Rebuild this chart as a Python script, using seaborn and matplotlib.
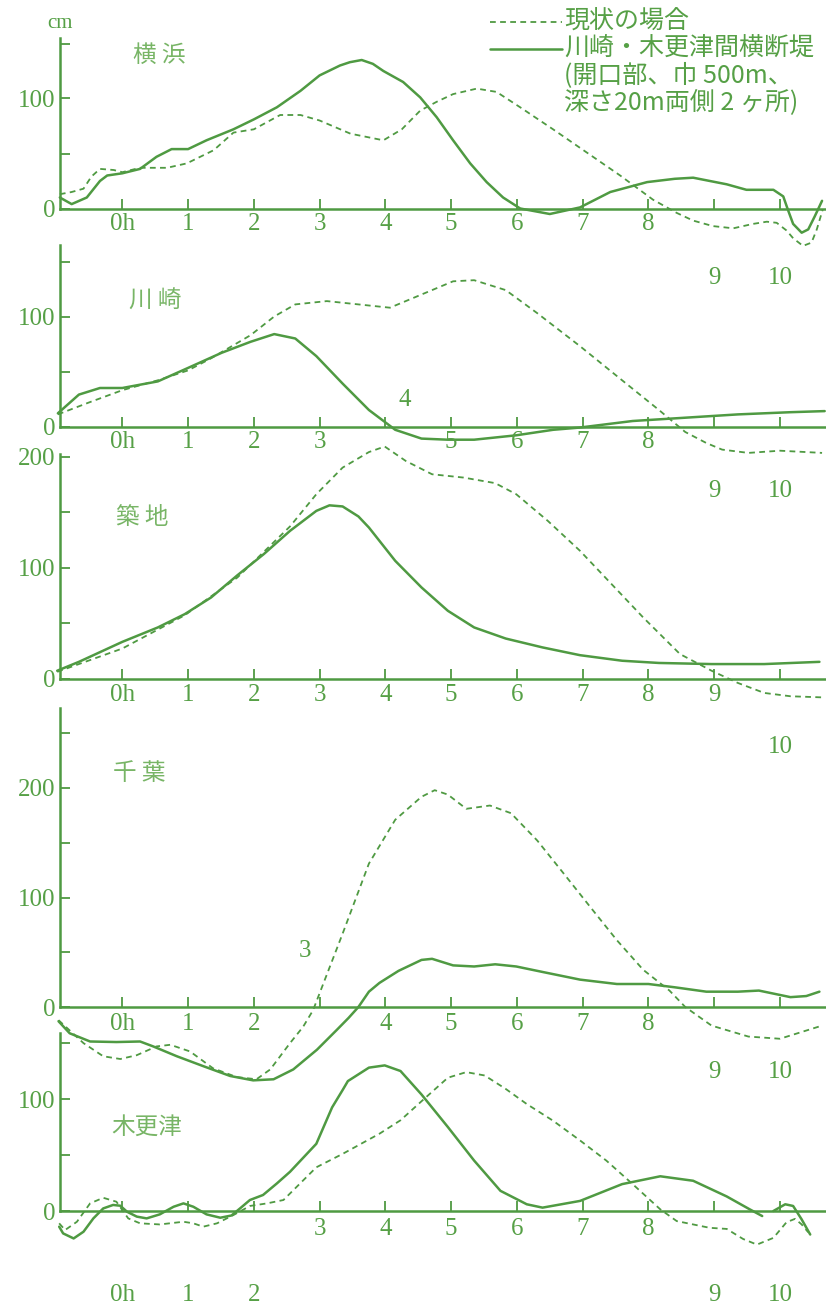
import numpy as np
import pandas as pd
import matplotlib
matplotlib.use("Agg")
import matplotlib.pyplot as plt
import seaborn as sns
from matplotlib.lines import Line2D

# ---------------- data (hours, cm) ----------------
hours = list(range(0, 11))
hour_labels = ["0h"] + [str(i) for i in range(1, 11)]
stations = ["横 浜", "川 崎", "築 地", "千 葉", "木更津"]
legend_now = "現状の場合"
legend_dam = ["川崎・木更津間横断堤", "(開口部、巾 500m、", "深さ20m両側 2 ヶ所)"]

# 横浜
yoko_now_h = [-0.95, -0.77, -0.59, -0.47, -0.34, -0.13, 0.0, 0.27, 0.68, 0.98, 1.39, 1.69, 2.0, 2.4, 2.71, 3.0,
              3.47, 3.97, 4.25, 4.53, 4.78, 5.03, 5.39, 5.69, 6.05, 6.55, 7.06, 7.57, 8.07, 8.43, 8.68, 8.98,
              9.29, 9.59, 9.8, 9.95, 10.1, 10.2, 10.35, 10.48, 10.56, 10.65]
yoko_now_cm = [13, 15, 18, 29, 36, 35, 33, 37, 37, 41, 53, 69, 72, 85, 85, 80,
               68, 62, 72, 89, 97, 104, 109, 106, 92, 72, 51, 30, 8, -4, -11, -16,
               -18, -14, -12, -13, -20, -27, -34, -31, -19, -1]
yoko_dam_h = [-0.95, -0.77, -0.54, -0.34, -0.23, 0.0, 0.27, 0.52, 0.75, 1.0, 1.28, 1.69, 2.0, 2.35, 2.71, 3.0,
              3.31, 3.46, 3.64, 3.81, 3.97, 4.27, 4.53, 4.78, 5.03, 5.29, 5.54, 5.79, 6.05, 6.5, 6.96, 7.42,
              7.98, 8.4, 8.68, 9.19, 9.49, 9.9, 10.05, 10.12, 10.2, 10.33, 10.43, 10.53, 10.64]
yoko_dam_cm = [10, 4, 10, 25, 30, 32, 36, 47, 54, 54, 62, 72, 81, 92, 107, 121,
               130, 133, 135, 131.5, 125, 115, 101, 83, 62, 41, 24, 10, 0, -5, 1, 15,
               24, 27, 28, 22, 17, 17, 11, -1, -14, -22, -19, -7, 7]

# 川崎
kawa_now_h = [-0.98, -0.5, 0.0, 0.54, 1.0, 1.35, 1.95, 2.31, 2.63, 3.11, 3.59, 4.07, 4.55, 5.03, 5.35, 5.83,
              6.31, 6.96, 7.6, 8.16, 8.56, 8.88, 9.12, 9.52, 10.0, 10.64]
kawa_now_cm = [11, 22, 33, 42, 51, 62, 83, 100, 111, 114, 111, 108, 120, 132, 133, 124,
               103, 73, 42, 15, -5, -15, -21, -24, -22, -24]
kawa_dam_h = [-0.98, -0.66, -0.34, 0.0, 0.54, 0.99, 1.51, 1.95, 2.31, 2.63, 2.95, 3.35, 3.75, 4.15, 4.55, 4.95,
              5.35, 5.99, 6.55, 6.95, 7.76, 8.56, 9.36, 10.16, 10.68]
kawa_dam_cm = [12, 29, 35, 35, 41, 53, 67, 77, 84, 80, 64, 39, 15, -3, -11, -12,
               -12, -8, -3, -1, 5, 8, 11, 13, 14]

# 築地
tsuki_now_h = [-0.99, 0.0, 0.95, 1.75, 2.55, 2.95, 3.35, 3.75, 3.99, 4.31, 4.71, 5.19, 5.67, 5.99, 6.47, 6.96,
               7.44, 7.92, 8.48, 8.96, 9.36, 9.76, 10.16, 10.64]
tsuki_now_cm = [6, 27, 57, 91, 137, 166, 190, 204, 209, 196, 184, 181, 176, 166, 142, 115,
                85, 55, 22, 7, -4, -13, -16, -17]
tsuki_dam_h = [-0.99, -0.66, 0.0, 0.54, 0.95, 1.35, 1.75, 2.15, 2.55, 2.95, 3.15, 3.35, 3.59, 3.75, 4.15, 4.55,
               4.95, 5.35, 5.83, 6.39, 6.96, 7.6, 8.16, 8.96, 9.76, 10.6]
tsuki_dam_cm = [7, 15, 33, 46, 58, 73, 93, 112, 133, 151, 156, 155, 146, 136, 106, 82,
                61, 46, 36, 28, 21, 16, 14, 13, 13, 15]

# 千葉
chiba_now_h = [-0.97, -0.59, -0.29, -0.03, 0.22, 0.52, 0.73, 1.03, 1.38, 1.74, 2.04, 2.25, 2.55, 2.75, 2.9, 3.35,
               3.75, 4.15, 4.55, 4.75, 4.95, 5.23, 5.59, 5.91, 6.31, 6.71, 7.12, 7.52, 7.92, 8.32, 8.56, 8.96,
               9.52, 10.0, 10.64]
chiba_now_cm = [-12, -33, -45, -47.5, -44, -36, -34.5, -40.6, -56, -64, -66, -57, -33, -18, -3, 67,
                131, 171, 192, 198, 194, 181, 184, 177, 152, 122, 91, 61, 34, 15, 0, -17,
                -27, -29, -17]
chiba_dam_h = [-0.97, -0.8, -0.49, -0.09, 0.27, 0.47, 0.83, 1.23, 1.64, 1.99, 2.3, 2.6, 2.96, 3.26, 3.44, 3.59,
               3.75, 3.91, 4.2, 4.55, 4.71, 5.03, 5.35, 5.67, 5.99, 6.39, 6.96, 7.52, 8.0, 8.4, 8.88, 9.36,
               9.68, 9.92, 10.16, 10.4, 10.6]
chiba_dam_cm = [-13, -24, -31.5, -32, -31.5, -36, -45, -54, -63, -67, -66, -57, -39, -21, -10, 0,
                14, 22, 33, 43, 44, 38, 37, 39, 37, 32, 25, 21, 21, 18, 14, 14,
                15, 12, 9, 10, 14]

# 木更津
kisa_now_h = [-0.96, -0.87, -0.69, -0.49, -0.29, -0.09, 0.09, 0.27, 0.57, 0.93, 1.08, 1.23, 1.44, 1.69, 1.94, 2.2,
              2.45, 2.95, 3.35, 3.91, 4.23, 4.55, 4.95, 5.23, 5.51, 5.83, 6.15, 6.55, 6.96, 7.36, 7.76, 8.18,
              8.43, 8.93, 9.19, 9.44, 9.65, 9.9, 10.1, 10.23, 10.33, 10.43]
kisa_now_cm = [-11, -17, -9.6, 6.8, 11.8, 8.3, -6.6, -11, -12, -9.6, -11, -14, -11, -3.6, 4.5, 6.8,
               9.8, 39, 51, 69, 81, 98, 119, 124, 121, 109, 95.5, 80.6, 63, 45, 24, 1.5,
               -9, -15, -16, -25, -30, -24, -10, -7, -12, -19]
kisa_dam_h = [-0.96, -0.9, -0.74, -0.59, -0.44, -0.29, -0.14, -0.03, 0.07, 0.22, 0.37, 0.57, 0.78, 0.93, 1.08, 1.28,
              1.49, 1.66, 1.79, 1.94, 2.14, 2.35, 2.55, 2.95, 3.19, 3.35, 3.43, 3.75, 3.99, 4.23, 4.55, 4.95,
              5.35, 5.75, 6.15, 6.39, 6.96, 7.6, 8.18, 8.68, 9.19, 9.54, 9.73]
kisa_dam_cm = [-14, -20, -24.5, -18.5, -6.6, 2.3, 5.4, 4.7, -0.6, -5, -6.6, -3, 3.8, 6.8, 3.8, -3,
               -6, -4, 2.3, 9.8, 14.3, 24.6, 35, 60, 92.5, 108, 116, 128, 130, 125, 104, 75,
               45, 18, 6, 3, 9, 24, 31, 27, 13, 1.5, -4.5]
kisa_dam_tail_h = [9.9, 10.08, 10.2, 10.33, 10.46]
kisa_dam_tail_cm = [0, 6, 4.5, -7.5, -21]

# ---------------- style ----------------
sns.set_theme(style="white")
plt.rcParams['font.family'] = ['Liberation Serif', 'Noto Sans CJK JP', 'DejaVu Sans']

GREEN = '#4f9a42'
TEXT = '#56a046'
NAME = '#78b566'
DASH = (0, (3.2, 2.4))

W, H = 826, 1310
fig = plt.figure(figsize=(W / 100, H / 100), dpi=100)
fig.patch.set_facecolor('white')

XMIN, XMAX = -0.955, 10.70
left_px = 59.5

# panel geometry: zero-line pixel, pixels per 100 cm, top of y-axis (cm)
panels = [
    dict(zero=208.5, ppc=110, ymax=155, now=(yoko_now_h, yoko_now_cm), dam=[(yoko_dam_h, yoko_dam_cm)],
         name_xy=(133, 55),
         labels=[(h, '0h' if h == 0 else str(h), 224) for h in range(0, 9)]
                + [(9, '9', 278), (10, '10', 278)]),
    dict(zero=426.5, ppc=110, ymax=165, now=(kawa_now_h, kawa_now_cm), dam=[(kawa_dam_h, kawa_dam_cm)],
         name_xy=(129, 301),
         labels=[(h, '0h' if h == 0 else str(h), 442) for h in [0, 1, 2, 3, 5, 6, 7, 8]]
                + [(4.3, '4', 400), (9, '9', 491), (10, '10', 491)]),
    dict(zero=678.5, ppc=111, ymax=202, now=(tsuki_now_h, tsuki_now_cm), dam=[(tsuki_dam_h, tsuki_dam_cm)],
         name_xy=(116, 518),
         labels=[(h, '0h' if h == 0 else str(h), 695) for h in range(0, 10)] + [(10, '10', 747)]),
    dict(zero=1007, ppc=109.5, ymax=273, now=(chiba_now_h, chiba_now_cm), dam=[(chiba_dam_h, chiba_dam_cm)],
         name_xy=(113, 773),
         labels=[(h, '0h' if h == 0 else str(h), 1024) for h in [0, 1, 2, 4, 5, 6, 7, 8]]
                + [(2.78, '3', 951), (9, '9', 1072), (10, '10', 1072)]),
    dict(zero=1211, ppc=112, ymax=159, now=(kisa_now_h, kisa_now_cm),
         dam=[(kisa_dam_h, kisa_dam_cm), (kisa_dam_tail_h, kisa_dam_tail_cm)],
         name_xy=(111, 1127),
         labels=[(h, str(h), 1229) for h in range(3, 9)]
                + [(h, '0h' if h == 0 else str(h), 1295) for h in [0, 1, 2, 9, 10]]),
]

for p, name in zip(panels, stations):
    height_px = p['ymax'] * p['ppc'] / 100
    ax = fig.add_axes([left_px / W, 1 - p['zero'] / H, (W - left_px) / W, height_px / H])
    ax.set_facecolor('none')
    ax.set_xlim(XMIN, XMAX)
    ax.set_ylim(0, p['ymax'])

    hn, vn = p['now']
    sns.lineplot(x=hn, y=vn, ax=ax, color=GREEN, lw=1.3, linestyle=DASH, clip_on=False,
                 estimator=None, sort=False, legend=False)
    for hd, vd in p['dam']:
        sns.lineplot(x=hd, y=vd, ax=ax, color=GREEN, lw=1.8, clip_on=False,
                     estimator=None, sort=False, legend=False)

    for s in ['top', 'right']:
        ax.spines[s].set_visible(False)
    for s in ['left', 'bottom']:
        ax.spines[s].set_color(GREEN)
        ax.spines[s].set_linewidth(1.8)
    ax.set_xticks(hours)
    ax.set_xticklabels([])
    yt = list(range(0, p['ymax'] + 1, 50))
    ax.set_yticks(yt)
    ax.set_yticklabels([str(v) if v % 100 == 0 else '' for v in yt])
    ax.tick_params(axis='both', which='major', direction='in', color=GREEN, width=1.3, length=7,
                   labelcolor=TEXT, labelsize=18, pad=3, bottom=True, left=True, top=False, right=False)
    ax.set_xlabel('')
    ax.set_ylabel('')

    # hour labels (displaced where the curves pass)
    for h, lab, ypx in p['labels']:
        v = (p['zero'] - ypx) / p['ppc'] * 100
        ax.text(h, v, lab, ha='center', va='center', color=TEXT, fontsize=18, clip_on=False)

    nx, ny = p['name_xy']
    fig.text(nx / W, 1 - ny / H, name, ha='left', va='center', color=NAME, fontsize=17,
             family=['Noto Sans CJK JP', 'DejaVu Sans'])

# unit label
fig.text(60 / W, 1 - 23 / H, 'cm', ha='center', va='center', color=TEXT, fontsize=15)

# legend
fig.add_artist(Line2D([490 / W, 562 / W], [1 - 22 / H, 1 - 22 / H], transform=fig.transFigure,
                      color=GREEN, lw=1.3, linestyle=DASH))
fig.add_artist(Line2D([490 / W, 562 / W], [1 - 49 / H, 1 - 49 / H], transform=fig.transFigure,
                      color=GREEN, lw=1.8))
cjk = ['Noto Sans CJK JP', 'DejaVu Sans']
fig.text(564 / W, 1 - 22 / H, legend_now, ha='left', va='center', color=TEXT, fontsize=18, family=cjk)
for txt, ypx in zip(legend_dam, [49, 75, 102]):
    fig.text(564 / W, 1 - ypx / H, txt, ha='left', va='center', color=TEXT, fontsize=18, family=cjk)

fig.savefig('out.png', dpi=100, facecolor='white')
